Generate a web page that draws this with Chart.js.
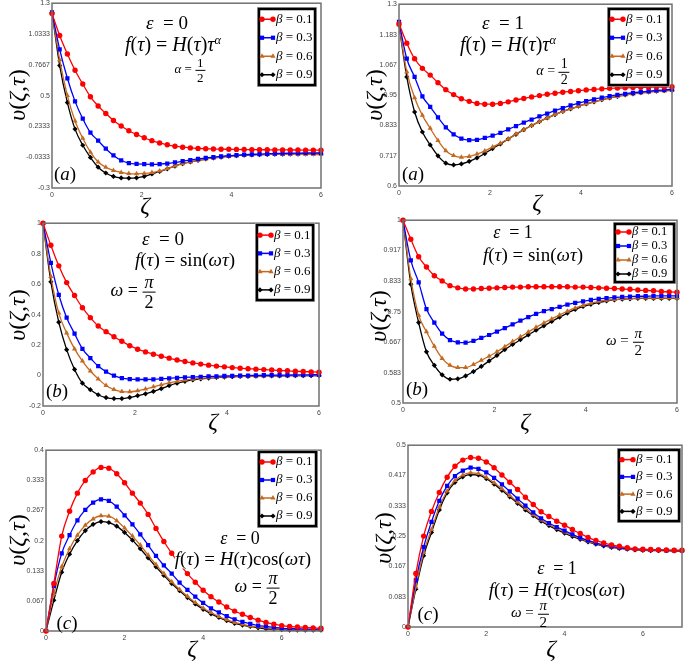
<!DOCTYPE html>
<html>
<head>
<meta charset="utf-8">
<script src="https://cdn.jsdelivr.net/npm/chart.js@4.4.1/dist/chart.umd.min.js"></script>
<style>
html, body { margin: 0; padding: 0; background: #fff; }
#fig { position: relative; width: 685px; height: 661px; overflow: hidden; font-family: "Liberation Serif", "DejaVu Serif", serif; color: #000; }
#fig canvas { position: absolute; }
.t { position: absolute; transform: translate(-50%, -50%); white-space: nowrap; line-height: 1; }
.i { font-style: italic; }
.bg { background: #fff; padding: 1px 0; }
.frac { display: inline-flex; flex-direction: column; align-items: center; vertical-align: middle; line-height: 1.05; }
.frac > span:first-child { border-bottom: 1px solid #000; padding: 0 2px; }
sup { font-size: 0.62em; vertical-align: 0.55em; line-height: 0; }
.yl { position: absolute; transform: translate(-50%, -50%) rotate(-90deg); white-space: nowrap; font-size: 24px; font-style: italic; line-height: 1; }
.xl { position: absolute; transform: translate(-50%, -50%); font-size: 24px; font-style: italic; line-height: 1; }
</style>
</head>
<body>
<div id="fig"></div>
<script>
// grid of zeta values (36 points, markers as in the figure)
var zeta6 = [0,0.171,0.343,0.514,0.686,0.857,1.029,1.2,1.371,1.543,1.714,1.886,2.057,2.229,2.4,2.571,2.743,2.914,3.086,3.257,3.429,3.6,3.771,3.943,4.114,4.286,4.457,4.629,4.8,4.971,5.143,5.314,5.486,5.657,5.829,6];
var zeta7 = [0,0.2,0.4,0.6,0.8,1.0,1.2,1.4,1.6,1.8,2.0,2.2,2.4,2.6,2.8,3.0,3.2,3.4,3.6,3.8,4.0,4.2,4.4,4.6,4.8,5.0,5.2,5.4,5.6,5.8,6.0,6.2,6.4,6.6,6.8,7.0];

var betaLabels = ['β = 0.1', 'β = 0.3', 'β = 0.6', 'β = 0.9'];
var xTicks = [0, 2, 4, 6];

// (a) eps = 0, f = H(t) t^alpha
var p1b1 = [1.21,1.02,0.86,0.72,0.6,0.49,0.41,0.345,0.285,0.237,0.196,0.163,0.135,0.11,0.09,0.074,0.062,0.053,0.047,0.043,0.04,0.038,0.036,0.035,0.034,0.033,0.032,0.031,0.031,0.03,0.03,0.029,0.029,0.028,0.028,0.028];
var p1b3 = [1.22,0.9,0.65,0.45,0.3,0.18,0.11,0.04,-0.018,-0.06,-0.085,-0.092,-0.094,-0.095,-0.093,-0.088,-0.079,-0.068,-0.058,-0.048,-0.04,-0.032,-0.026,-0.02,-0.016,-0.012,-0.009,-0.006,-0.004,-0.002,0,0.001,0.002,0.003,0.004,0.005];
var p1b6 = [1.22,0.81,0.5,0.28,0.13,0.01,-0.075,-0.12,-0.148,-0.165,-0.175,-0.177,-0.174,-0.166,-0.152,-0.132,-0.11,-0.09,-0.074,-0.06,-0.049,-0.04,-0.032,-0.025,-0.02,-0.016,-0.013,-0.011,-0.01,-0.009,-0.009,-0.009,-0.009,-0.009,-0.01,-0.01];
var p1b9 = [1.22,0.76,0.44,0.21,0.07,-0.035,-0.12,-0.17,-0.2,-0.213,-0.215,-0.212,-0.2,-0.178,-0.157,-0.134,-0.11,-0.09,-0.074,-0.06,-0.049,-0.04,-0.032,-0.025,-0.02,-0.016,-0.013,-0.011,-0.009,-0.008,-0.007,-0.006,-0.006,-0.005,-0.005,-0.005];
var p1YTicks = [-0.3, -0.0333, 0.2333, 0.5, 0.7667, 1.0333, 1.3];
var p1YLabels = ['-0.3', '-0.0333', '0.2333', '0.5', '0.7667', '1.0333', '1.3'];

// (a) eps = 1
var p2b1 = [1.225,1.15,1.09,1.053,1.027,0.998,0.971,0.952,0.936,0.926,0.918,0.915,0.915,0.918,0.924,0.931,0.937,0.943,0.948,0.953,0.957,0.961,0.964,0.967,0.97,0.972,0.974,0.976,0.977,0.978,0.979,0.98,0.98,0.981,0.981,0.982];
var p2b3 = [1.232,1.09,1.02,0.945,0.905,0.864,0.826,0.799,0.782,0.777,0.778,0.785,0.794,0.805,0.818,0.831,0.844,0.856,0.868,0.879,0.89,0.9,0.91,0.919,0.927,0.934,0.94,0.946,0.951,0.955,0.959,0.962,0.965,0.968,0.97,0.972];
var p2b6 = [1.22,1.04,0.94,0.872,0.822,0.775,0.736,0.717,0.711,0.714,0.723,0.735,0.75,0.765,0.781,0.8,0.817,0.833,0.848,0.862,0.875,0.887,0.897,0.907,0.916,0.924,0.932,0.939,0.945,0.95,0.954,0.958,0.961,0.964,0.966,0.968];
var p2b9 = [1.22,1.02,0.885,0.808,0.758,0.716,0.688,0.681,0.685,0.695,0.708,0.725,0.744,0.762,0.781,0.799,0.817,0.833,0.848,0.862,0.875,0.887,0.897,0.907,0.916,0.924,0.932,0.939,0.945,0.951,0.955,0.959,0.962,0.965,0.967,0.969];
var p2YTicks = [0.6, 0.717, 0.833, 0.95, 1.067, 1.183, 1.3];
var p2YLabels = ['0.6', '0.717', '0.833', '0.95', '1.067', '1.183', '1.3'];

// (b) eps = 0, f = sin(wt)
var p3b1 = [1.0,0.855,0.72,0.61,0.525,0.445,0.38,0.325,0.288,0.255,0.225,0.196,0.173,0.155,0.14,0.127,0.114,0.102,0.092,0.083,0.075,0.068,0.062,0.057,0.052,0.048,0.045,0.042,0.039,0.036,0.033,0.031,0.028,0.026,0.024,0.022];
var p3b3 = [1.0,0.74,0.53,0.38,0.275,0.175,0.115,0.062,0.025,0.0,-0.017,-0.024,-0.026,-0.026,-0.025,-0.022,-0.018,-0.015,-0.012,-0.01,-0.008,-0.006,-0.005,-0.003,-0.002,-0.001,0,0.001,0.002,0.002,0.003,0.003,0.004,0.004,0.005,0.005];
var p3b6 = [1.0,0.65,0.41,0.28,0.175,0.095,0.03,-0.022,-0.065,-0.092,-0.105,-0.107,-0.1,-0.088,-0.074,-0.061,-0.048,-0.038,-0.03,-0.024,-0.019,-0.015,-0.012,-0.009,-0.007,-0.006,-0.005,-0.004,-0.003,-0.002,-0.002,-0.001,-0.001,-0.001,0,0];
var p3b9 = [1.0,0.615,0.35,0.17,0.04,-0.05,-0.093,-0.126,-0.145,-0.151,-0.151,-0.144,-0.132,-0.12,-0.104,-0.086,-0.066,-0.05,-0.038,-0.029,-0.022,-0.017,-0.013,-0.01,-0.008,-0.006,-0.005,-0.004,-0.003,-0.002,-0.002,-0.001,-0.001,-0.001,0,0];
var p3YTicks = [-0.2, 0, 0.2, 0.4, 0.6, 0.8, 1];
var p3YLabels = ['-0.2', '0', '0.2', '0.4', '0.6', '0.8', '1'];

// (b) eps = 1
var p4b1 = [1.0,0.948,0.9,0.872,0.848,0.834,0.821,0.815,0.812,0.812,0.813,0.814,0.815,0.816,0.817,0.817,0.818,0.818,0.818,0.818,0.818,0.818,0.817,0.817,0.816,0.815,0.814,0.813,0.812,0.811,0.809,0.808,0.807,0.805,0.804,0.803];
var p4b3 = [1.0,0.89,0.83,0.757,0.72,0.69,0.672,0.666,0.665,0.67,0.678,0.686,0.695,0.705,0.715,0.725,0.735,0.744,0.751,0.757,0.763,0.769,0.774,0.778,0.782,0.785,0.787,0.789,0.79,0.791,0.792,0.792,0.793,0.793,0.793,0.793];
var p4b6 = [1.0,0.84,0.74,0.695,0.655,0.622,0.603,0.597,0.597,0.605,0.617,0.628,0.64,0.654,0.668,0.681,0.694,0.707,0.719,0.73,0.741,0.751,0.76,0.767,0.773,0.778,0.781,0.783,0.785,0.786,0.787,0.787,0.787,0.787,0.787,0.787];
var p4b9 = [1.0,0.825,0.72,0.64,0.603,0.577,0.565,0.566,0.574,0.586,0.6,0.615,0.63,0.646,0.66,0.673,0.686,0.699,0.711,0.723,0.735,0.746,0.756,0.764,0.77,0.775,0.779,0.782,0.784,0.785,0.786,0.786,0.786,0.786,0.786,0.786];
var p4YTicks = [0.5, 0.583, 0.667, 0.75, 0.833, 0.917, 1];
var p4YLabels = ['0.5', '0.583', '0.667', '0.75', '0.833', '0.917', '1'];

// (c) eps = 0, f = H(t) cos(wt)
var p5b1 = [0,0.105,0.21,0.265,0.305,0.333,0.352,0.362,0.36,0.348,0.328,0.305,0.283,0.258,0.227,0.198,0.172,0.148,0.127,0.108,0.09,0.076,0.064,0.053,0.044,0.037,0.03,0.024,0.019,0.015,0.012,0.01,0.009,0.008,0.007,0.006];
var p5b3 = [0,0.1,0.172,0.212,0.245,0.268,0.284,0.291,0.288,0.275,0.256,0.236,0.214,0.19,0.166,0.145,0.127,0.107,0.091,0.076,0.062,0.05,0.041,0.033,0.026,0.02,0.016,0.012,0.01,0.008,0.006,0.005,0.005,0.004,0.004,0.004];
var p5b6 = [0,0.083,0.142,0.182,0.212,0.234,0.248,0.255,0.254,0.244,0.228,0.21,0.19,0.168,0.147,0.127,0.109,0.092,0.077,0.063,0.051,0.041,0.032,0.025,0.019,0.015,0.011,0.009,0.007,0.005,0.004,0.004,0.003,0.003,0.003,0.003];
var p5b9 = [0,0.068,0.13,0.17,0.2,0.222,0.236,0.242,0.24,0.232,0.218,0.201,0.182,0.162,0.142,0.123,0.105,0.089,0.074,0.06,0.048,0.038,0.03,0.023,0.017,0.013,0.01,0.007,0.005,0.004,0.003,0.002,0.002,0.002,0.002,0.002];
var p5YTicks = [0, 0.067, 0.133, 0.2, 0.267, 0.333, 0.4];
var p5YLabels = ['0', '0.067', '0.133', '0.2', '0.267', '0.333', '0.4'];

// (c) eps = 1
var p6b1 = [0,0.147,0.25,0.318,0.37,0.412,0.442,0.459,0.466,0.464,0.454,0.438,0.418,0.398,0.378,0.357,0.337,0.317,0.304,0.291,0.28,0.268,0.257,0.246,0.238,0.231,0.226,0.222,0.218,0.215,0.214,0.213,0.212,0.212,0.211,0.211];
var p6b3 = [0,0.128,0.22,0.289,0.347,0.388,0.415,0.43,0.438,0.435,0.425,0.41,0.392,0.373,0.353,0.334,0.315,0.299,0.286,0.275,0.265,0.255,0.246,0.238,0.231,0.226,0.222,0.218,0.216,0.214,0.213,0.212,0.212,0.211,0.211,0.211];
var p6b6 = [0,0.11,0.205,0.268,0.33,0.374,0.403,0.418,0.424,0.422,0.412,0.397,0.38,0.362,0.344,0.326,0.309,0.294,0.282,0.271,0.261,0.252,0.243,0.236,0.229,0.224,0.22,0.217,0.215,0.213,0.212,0.211,0.211,0.21,0.21,0.21];
var p6b9 = [0,0.104,0.196,0.26,0.322,0.369,0.398,0.413,0.419,0.418,0.408,0.393,0.376,0.358,0.34,0.322,0.306,0.291,0.279,0.268,0.258,0.249,0.241,0.234,0.228,0.223,0.219,0.216,0.214,0.212,0.211,0.21,0.21,0.21,0.209,0.209];
var p6YTicks = [0, 0.083, 0.167, 0.25, 0.333, 0.417, 0.5];
var p6YLabels = ['0', '0.083', '0.167', '0.25', '0.333', '0.417', '0.5'];

var styles = [
  {color: '#ff0000', point: 'circle', r: 2.7},
  {color: '#0000ff', point: 'rect', r: 3},
  {color: '#c4691f', point: 'triangle', r: 3},
  {color: '#000000', point: 'rectRot', r: 2.6}
];

// plot box [left, top, right, bottom] and legend box in page pixels
var panels = [
  {plot: [52, 3, 321, 188], xMax: 6, zeta: zeta6, yMin: -0.3, yMax: 1.3, yTicks: p1YTicks, yLabels: p1YLabels, series: [p1b1, p1b3, p1b6, p1b9], legend: [257, 7, 317, 87], lfs: 13},
  {plot: [399, 4, 672, 186], xMax: 6, zeta: zeta6, yMin: 0.6, yMax: 1.3, yTicks: p2YTicks, yLabels: p2YLabels, series: [p2b1, p2b3, p2b6, p2b9], legend: [607, 7, 670, 87], lfs: 13},
  {plot: [43, 223, 319, 406], xMax: 6, zeta: zeta6, yMin: -0.2, yMax: 1, yTicks: p3YTicks, yLabels: p3YLabels, series: [p3b1, p3b3, p3b6, p3b9], legend: [255, 223, 315, 302], lfs: 13},
  {plot: [403, 220, 677, 403], xMax: 6, zeta: zeta6, yMin: 0.5, yMax: 1, yTicks: p4YTicks, yLabels: p4YLabels, series: [p4b1, p4b3, p4b6, p4b9], legend: [613, 222, 676, 284], lfs: 12.5},
  {plot: [46, 450, 321, 631], xMax: 7, zeta: zeta7, yMin: 0, yMax: 0.4, yTicks: p5YTicks, yLabels: p5YLabels, series: [p5b1, p5b3, p5b6, p5b9], legend: [257, 450, 318, 528], lfs: 13},
  {plot: [408, 445, 682, 627], xMax: 7, zeta: zeta7, yMin: 0, yMax: 0.5, yTicks: p6YTicks, yLabels: p6YLabels, series: [p6b1, p6b3, p6b6, p6b9], legend: [617, 448, 681, 523], lfs: 13}
];

var PAD_L = 45, PAD_T = 6, PAD_R = 6, PAD_B = 18;

var framePlugin = {
  id: 'frame',
  afterDatasetsDraw: function (chart) {
    var a = chart.chartArea, ctx = chart.ctx;
    ctx.save();
    ctx.strokeStyle = '#707070';
    ctx.lineWidth = 1.5;
    ctx.strokeRect(a.left, a.top, a.right - a.left, a.bottom - a.top);
    ctx.restore();
  }
};

var legendPlugin = {
  id: 'betaLegend',
  afterDraw: function (chart, args, o) {
    var ctx = chart.ctx, b = o.box, w = b[2] - b[0], h = b[3] - b[1];
    ctx.save();
    ctx.fillStyle = '#fff';
    ctx.fillRect(b[0], b[1], w, h);
    ctx.strokeStyle = '#aaa';
    ctx.lineWidth = 1;
    ctx.strokeRect(b[0] + 0.5, b[1] + 0.5, w - 1, h - 1);
    ctx.strokeStyle = '#000';
    ctx.lineWidth = 2.5;
    ctx.strokeRect(b[0] + 2, b[1] + 2, w - 4, h - 4);
    var n = chart.data.datasets.length, step = (h - 6) / n;
    chart.data.datasets.forEach(function (ds, i) {
      var y = b[1] + 3 + step * (i + 0.5);
      var x1 = b[0] + 5, x2 = b[0] + 16;
      ctx.strokeStyle = ds.borderColor;
      ctx.lineWidth = 1.5;
      ctx.beginPath(); ctx.moveTo(x1, y); ctx.lineTo(x2, y); ctx.stroke();
      ctx.fillStyle = ds.borderColor;
      [x1, x2].forEach(function (x) {
        Chart.helpers.drawPoint(ctx, {pointStyle: ds.pointStyle, radius: ds.pointRadius, rotation: 0, borderWidth: 0}, x, y);
      });
      ctx.fillStyle = '#000';
      ctx.textBaseline = 'middle';
      ctx.font = 'italic ' + o.fs + 'px "Liberation Serif"';
      var tx = x2 + 3;
      ctx.fillText('β', tx, y);
      tx += ctx.measureText('β').width;
      ctx.font = o.fs + 'px "Liberation Serif"';
      ctx.fillText(ds.label.slice(1), tx, y);
    });
    ctx.restore();
  }
};

var fig = document.getElementById('fig');

panels.forEach(function (p) {
  var W = (p.plot[2] - p.plot[0]) + PAD_L + PAD_R;
  var H = (p.plot[3] - p.plot[1]) + PAD_T + PAD_B;
  var cx = p.plot[0] - PAD_L, cy = p.plot[1] - PAD_T;
  var cv = document.createElement('canvas');
  cv.width = W; cv.height = H;
  cv.style.left = cx + 'px'; cv.style.top = cy + 'px';
  cv.style.width = W + 'px'; cv.style.height = H + 'px';
  fig.appendChild(cv);

  var datasets = p.series.map(function (s, j) {
    var st = styles[j];
    return {
      label: betaLabels[j],
      data: p.zeta.map(function (x, i) { return {x: x, y: s[i]}; }),
      borderColor: st.color,
      backgroundColor: st.color,
      borderWidth: 1.3,
      pointStyle: st.point,
      pointRadius: st.r,
      pointBorderWidth: 0,
      cubicInterpolationMode: 'monotone',
      clip: 3
    };
  });

  var tickFont = {family: '"Liberation Sans"', size: 7};
  new Chart(cv, {
    type: 'line',
    data: {datasets: datasets},
    options: {
      responsive: false,
      animation: false,
      devicePixelRatio: 1,
      layout: {padding: {left: 0, top: PAD_T, right: PAD_R, bottom: 0}},
      plugins: {
        legend: {display: false},
        tooltip: {enabled: false},
        betaLegend: {box: [p.legend[0] - cx, p.legend[1] - cy, p.legend[2] - cx, p.legend[3] - cy], fs: p.lfs}
      },
      scales: {
        x: {
          type: 'linear', min: 0, max: p.xMax,
          grid: {display: false, drawTicks: false},
          border: {display: false},
          afterBuildTicks: function (s) { s.ticks = xTicks.map(function (v) { return {value: v}; }); },
          afterFit: function (s) { s.height = PAD_B; },
          ticks: {font: tickFont, color: '#444', padding: 3, maxRotation: 0, autoSkip: false}
        },
        y: {
          type: 'linear', min: p.yMin, max: p.yMax,
          grid: {display: false, drawTicks: false},
          border: {display: false},
          afterBuildTicks: function (s) { s.ticks = p.yTicks.map(function (v) { return {value: v}; }); },
          afterFit: function (s) { s.width = PAD_L; },
          ticks: {font: tickFont, color: '#444', padding: 2, autoSkip: false,
            callback: function (v, i) { return p.yLabels[i]; }}
        }
      }
    },
    plugins: [framePlugin, legendPlugin]
  });
});

// text annotations: [x, y, html, fontSize, extra class]
var F = '<span class="i">f</span>(<span class="i">τ</span>) = ';
var tau = '<span class="i">τ</span>';
function frac(a, b) { return '<span class="frac"><span>' + a + '</span><span>' + b + '</span></span>'; }
var notes = [
  [167, 22, '<span class="i">ε</span>&nbsp; = 0', 19],
  [173, 44, F + '<span class="i">H</span>(' + tau + ')' + tau + '<sup class="i">α</sup>', 20],
  [190, 70, '<span class="i">α</span> = ' + frac('1', '2'), 13],
  [65, 173, '(<span class="i">a</span>)', 19],

  [503, 22, '<span class="i">ε</span>&nbsp; = 1', 19],
  [508, 44, F + '<span class="i">H</span>(' + tau + ')' + tau + '<sup class="i">α</sup>', 20],
  [553, 72, '<span class="i">α</span> = ' + frac('1', '2'), 14],
  [413, 173, '(<span class="i">a</span>)', 19],

  [163, 238, '<span class="i">ε</span>&nbsp; = 0', 19],
  [185, 259, F + 'sin(<span class="i">ωτ</span>)', 19],
  [133, 292, '<span class="i">ω</span> = ' + frac('<span class="i">π</span>', '2'), 18],
  [57, 390, '(<span class="i">b</span>)', 19],

  [513, 232, '<span class="i">ε</span>&nbsp; = 1', 18],
  [533, 254, F + 'sin(<span class="i">ωτ</span>)', 19],
  [625, 342, '<span class="i">ω</span> = ' + frac('<span class="i">π</span>', '2'), 15],
  [417, 388, '(<span class="i">b</span>)', 19],

  [240, 538, '<span class="i">ε</span>&nbsp; = 0', 18],
  [243, 558, F + '<span class="i">H</span>(' + tau + ')cos(<span class="i">ωτ</span>)', 19, 'bg'],
  [257, 588, '<span class="i">ω</span> = ' + frac('<span class="i">π</span>', '2'), 18],
  [67, 622, '(<span class="i">c</span>)', 19],

  [557, 568, '<span class="i">ε</span>&nbsp; = 1', 18],
  [557, 589, F + '<span class="i">H</span>(' + tau + ')cos(<span class="i">ωτ</span>)', 19],
  [530, 614, '<span class="i">ω</span> = ' + frac('<span class="i">π</span>', '2'), 15],
  [428, 613, '(<span class="i">c</span>)', 19]
];
notes.forEach(function (n) {
  var d = document.createElement('div');
  d.className = 't' + (n[4] ? ' ' + n[4] : '');
  d.style.left = n[0] + 'px'; d.style.top = n[1] + 'px'; d.style.fontSize = n[3] + 'px';
  d.innerHTML = n[2];
  fig.appendChild(d);
});

var yTitles = [[17, 95], [374, 95], [17, 315], [378, 316], [17, 540], [383, 538]];
yTitles.forEach(function (c) {
  var d = document.createElement('div');
  d.className = 'yl';
  d.style.left = c[0] + 'px'; d.style.top = c[1] + 'px';
  d.innerHTML = 'υ<span style="font-style:normal">(</span>ζ,τ<span style="font-style:normal">)</span>';
  fig.appendChild(d);
});
var xTitles = [[145, 205], [537, 202], [213, 421], [525, 421], [192, 648], [551, 648]];
xTitles.forEach(function (c) {
  var d = document.createElement('div');
  d.className = 'xl';
  d.style.left = c[0] + 'px'; d.style.top = c[1] + 'px';
  d.textContent = 'ζ';
  fig.appendChild(d);
});
</script>
</body>
</html>
